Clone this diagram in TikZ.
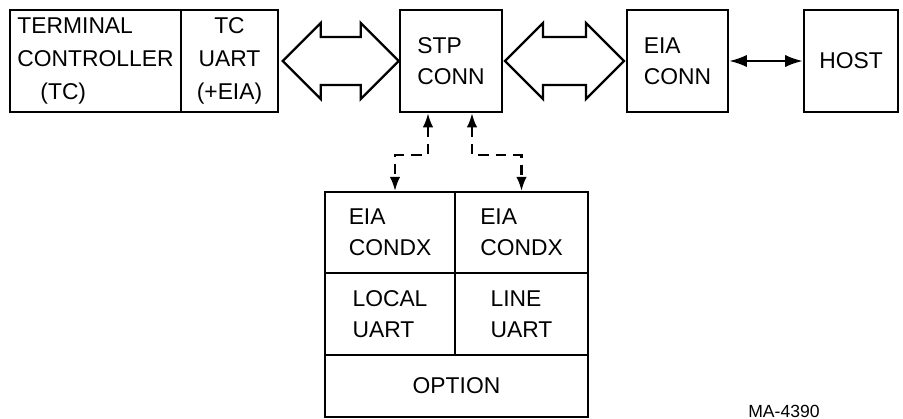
\documentclass[tikz,border=0pt]{standalone}
\usepackage{fontspec}
\setmainfont{Liberation Sans}
\usetikzlibrary{arrows.meta, positioning, calc}

% wide hollow double arrow between two anchors
\newcommand{\widearrow}[2]{%
  \draw[bigarr] (#1) -- ($(#1)+(38,-38)$) -- ($(#1)+(38,-24)$)
    -- ($(#2)+(-38,-24)$) -- ($(#2)+(-38,-38)$) -- (#2)
    -- ($(#2)+(-38,38)$) -- ($(#2)+(-38,24)$)
    -- ($(#1)+(38,24)$) -- ($(#1)+(38,38)$) -- cycle;}

\begin{document}
\begin{tikzpicture}[x=0.02cm, y=-0.02cm,
        blk/.style={draw, line width=1.5pt, inner sep=0pt, minimum height=2.04cm,
                    font=\fontsize{13}{17.5}\selectfont},
        cell/.style={draw, line width=1.3pt, inner sep=0pt,
                     font=\fontsize{13}{17.5}\selectfont},
        bigarr/.style={line width=1.3pt, line join=miter},
        link/.style={line width=1.2pt, dash pattern=on 6pt off 4pt,
                     {Latex[length=8pt,width=6pt]}-{Latex[length=8pt,width=6pt]}},
        wire/.style={line width=1.2pt,
                     {Latex[length=10pt,width=7pt]}-{Latex[length=10pt,width=7pt]}}]
  \useasboundingbox (0,0) rectangle (903,419);
  % top row
  \node[blk, minimum width=3.42cm, align=left, font=\fontsize{13}{19}\selectfont]
       (tc) at (95.5,61) {TERMINAL\\CONTROLLER\\\hspace*{0.46cm}(TC)};
  \node[blk, minimum width=1.94cm, align=center, font=\fontsize{13}{19}\selectfont]
       (tcu) at (229.5,61) {TC\\UART\\(+EIA)};
  \node[blk, minimum width=2.04cm, align=left] (stp) at (451,61) {STP\\CONN};
  \node[blk, minimum width=2.02cm, align=left] (eia) at (677.5,61) {EIA\\CONN};
  \node[blk, minimum width=1.88cm] (host) at (851,61) {HOST};
  % option module
  \node[cell, minimum width=2.6cm, minimum height=1.62cm, align=left]
       (eiaL) at (390,232.5) {EIA\\CONDX};
  \node[cell, minimum width=2.66cm, minimum height=1.62cm, align=left]
       (eiaR) at (521.5,232.5) {EIA\\CONDX};
  \node[cell, minimum width=2.6cm, minimum height=1.64cm, align=left]
       (loc) at (390,314) {LOCAL\\UART};
  \node[cell, minimum width=2.66cm, minimum height=1.64cm, align=left]
       (line) at (521.5,314) {LINE\\UART};
  \node[cell, minimum width=5.26cm, minimum height=1.24cm]
       (opt) at (456.5,386) {OPTION};
  \node[anchor=south west, inner sep=0pt, font=\fontsize{10}{12}\selectfont]
       (fig) at (748,418) {MA-4390};
  % connectors
  \widearrow{[xshift=2pt]tcu.east}{stp.west}
  \widearrow{[xshift=1pt]stp.east}{[xshift=-1pt]eia.west}
  \draw[wire] (eia) -- (host);
  \draw[link] ([xshift=-0.46cm]stp.south) -- ++(0,42) -| ([xshift=0.1cm]eiaL.north);
  \draw[link] ([xshift=0.42cm]stp.south) -- ++(0,42) -| (eiaR.north);
\end{tikzpicture}
\end{document}
